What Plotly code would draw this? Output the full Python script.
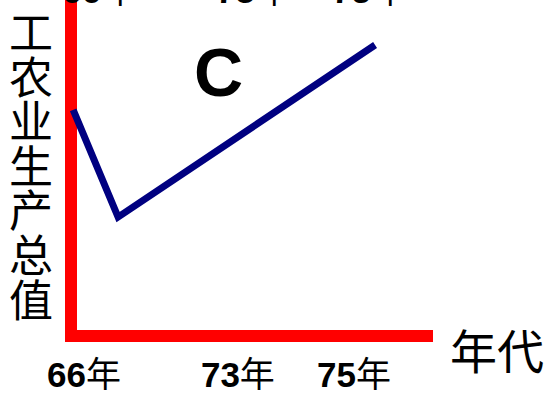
import plotly.graph_objects as go

# data (arbitrary horizontal units, vertical units; 0 = axis origin)
line_x = [0.6, 13.0, 84.0]
line_y = [67.3, 35.4, 86.6]
tick_pos = [3.6, 46.1, 78.2]
tick_years = ["66", "73", "75"]
y_title_chars = list("工农业生产总值")
x_title = "年代"
panel_label = "C"

W, H = 546, 398
L, R, T, B = 65, 113, 0, 56
pw, ph = W - L - R, H - T - B
x_range = [-6 / 3.62, 100]
y_range = [-6 / 3.36, 100]

fig = go.Figure()
fig.add_trace(go.Scatter(x=line_x, y=line_y, mode="lines",
                         line=dict(color="#000080", width=7),
                         hoverinfo="skip", showlegend=False))

tick_text = [f"<b>{y}</b>年" for y in tick_years]
font_lbl = dict(family="Liberation Sans, Arial, Noto Sans CJK SC", size=35, color="black")

fig.update_xaxes(range=x_range, showgrid=False, automargin=False, showline=False,
                 zeroline=True, zerolinecolor="#FF0000", zerolinewidth=12,
                 tickmode="array", tickvals=tick_pos, ticktext=tick_text,
                 ticks="", tickfont=font_lbl, ticklabelstandoff=9)
fig.update_yaxes(range=y_range, showgrid=False, automargin=False, showline=False,
                 zeroline=True, zerolinecolor="#FF0000", zerolinewidth=12,
                 showticklabels=False, ticks="")

ann = []
cjk = "Noto Sans CJK SC"
for i, ch in enumerate(y_title_chars):
    cy = 30 + 44.6 * i
    ann.append(dict(text=ch, xref="paper", yref="paper",
                    x=(31 - L) / pw, y=(ph - cy) / ph,
                    xanchor="center", yanchor="middle", showarrow=False,
                    font=dict(family=cjk, size=44, color="black")))
ann.append(dict(text=x_title, xref="paper", yref="paper",
                x=(497 - L) / pw, y=(ph - 348) / ph,
                xanchor="center", yanchor="middle", showarrow=False,
                font=dict(family=cjk, size=47, color="black")))
ann.append(dict(text=f"<b>{panel_label}</b>", xref="paper", yref="paper",
                x=(218 - L) / pw, y=(ph - 72) / ph,
                xanchor="center", yanchor="middle", showarrow=False,
                font=dict(family="Liberation Sans, Arial", size=68, color="black")))
# remnants of labels from the panel above (cut at top edge)
for p, t in zip(tick_pos, tick_text):
    ann.append(dict(text=t, xref="x", yref="paper",
                    x=p + 15 / 3.62, y=(ph + 9) / ph,
                    xanchor="center", yanchor="middle", showarrow=False,
                    font=font_lbl))

fig.update_layout(width=W, height=H, margin=dict(l=L, r=R, t=T, b=B, autoexpand=False),
                  paper_bgcolor="white", plot_bgcolor="white",
                  annotations=ann, showlegend=False)
fig.write_html("out.html", config={"displayModeBar": False},
               post_script="document.body.style.margin='0';document.body.style.overflow='hidden';")
